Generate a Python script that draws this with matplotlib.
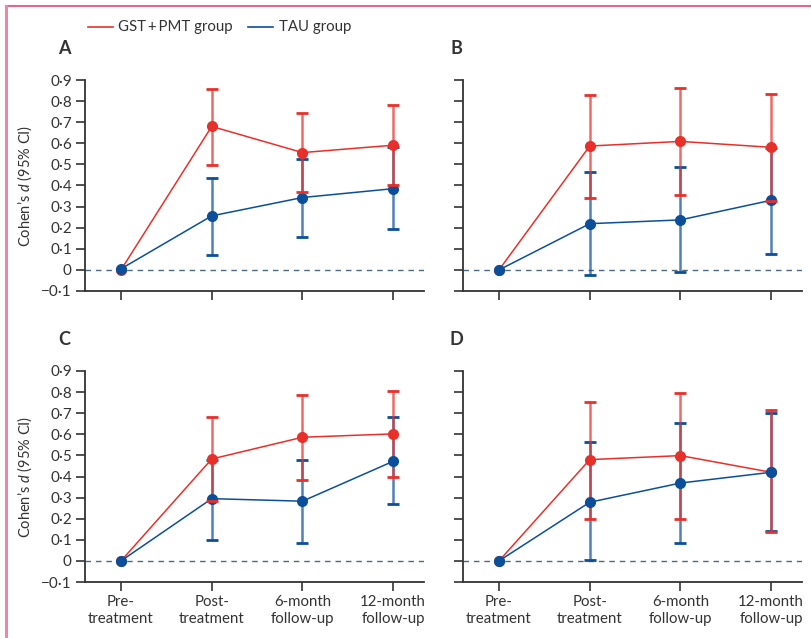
import matplotlib
matplotlib.use("Agg")
import matplotlib.pyplot as plt
from matplotlib.lines import Line2D

plt.rcParams['font.family'] = ['Lato', 'DejaVu Sans']
plt.rcParams['mathtext.fontset'] = 'custom'
plt.rcParams['mathtext.it'] = 'Lato:italic'
plt.rcParams['mathtext.rm'] = 'Lato'

# ---- data ----
timepoints = ["Pre-\ntreatment", "Post-\ntreatment", "6-month\nfollow-up", "12-month\nfollow-up"]
panels = ["A", "B", "C", "D"]

gst_A = [0.0, 0.68, 0.556, 0.591]
gst_A_lo = [0.0, 0.497, 0.369, 0.403]
gst_A_hi = [0.0, 0.857, 0.744, 0.782]
tau_A = [0.005, 0.256, 0.343, 0.385]
tau_A_lo = [0.005, 0.071, 0.156, 0.194]
tau_A_hi = [0.005, 0.434, 0.527, 0.584]

gst_B = [0.0, 0.587, 0.609, 0.581]
gst_B_lo = [0.0, 0.343, 0.357, 0.325]
gst_B_hi = [0.0, 0.829, 0.862, 0.834]
tau_B = [0.0, 0.219, 0.237, 0.330]
tau_B_lo = [0.0, -0.022, -0.009, 0.076]
tau_B_hi = [0.0, 0.464, 0.489, 0.580]

gst_C = [0.0, 0.483, 0.586, 0.602]
gst_C_lo = [0.0, 0.283, 0.382, 0.398]
gst_C_hi = [0.0, 0.681, 0.785, 0.805]
tau_C = [0.0, 0.295, 0.283, 0.472]
tau_C_lo = [0.0, 0.099, 0.085, 0.270]
tau_C_hi = [0.0, 0.480, 0.477, 0.681]

gst_D = [0.0, 0.480, 0.499, 0.420]
gst_D_lo = [0.0, 0.197, 0.197, 0.137]
gst_D_hi = [0.0, 0.753, 0.794, 0.715]
tau_D = [0.0, 0.278, 0.369, 0.420]
tau_D_lo = [0.0, 0.005, 0.085, 0.140]
tau_D_hi = [0.0, 0.562, 0.654, 0.700]

yticks = [-0.1, 0.0, 0.1, 0.2, 0.3, 0.4, 0.5, 0.6, 0.7, 0.8, 0.9]
ytick_labels = ["\u22120\u00b71", "0", "0\u00b71", "0\u00b72", "0\u00b73", "0\u00b74", "0\u00b75",
                "0\u00b76", "0\u00b77", "0\u00b78", "0\u00b79"]

series = {
    "A": (gst_A, gst_A_lo, gst_A_hi, tau_A, tau_A_lo, tau_A_hi),
    "B": (gst_B, gst_B_lo, gst_B_hi, tau_B, tau_B_lo, tau_B_hi),
    "C": (gst_C, gst_C_lo, gst_C_hi, tau_C, tau_C_lo, tau_C_hi),
    "D": (gst_D, gst_D_lo, gst_D_hi, tau_D, tau_D_lo, tau_D_hi),
}

RED = "#e8302b"
BLUE = "#0b4f9a"
TXT = "#333333"

W, H = 811, 638
fig = plt.figure(figsize=(W / 100, H / 100), dpi=100)

ax_w = 339 / W
ax_h = 211 / H
positions = {
    "A": (85 / W, (H - 291) / H),
    "B": (463 / W, (H - 291) / H),
    "C": (85 / W, (H - 582) / H),
    "D": (463 / W, (H - 582) / H),
}

x = list(range(len(timepoints)))


def draw_errors(ax, vals, lo, hi, color, z, capz):
    idx = [i for i in x if i > 0]
    yerr = [[vals[i] - lo[i] for i in idx], [hi[i] - vals[i] for i in idx]]
    eb = ax.errorbar([x[i] for i in idx], [vals[i] for i in idx], yerr=yerr,
                     fmt='none', ecolor=color, elinewidth=1.8, capsize=4, capthick=2.0, zorder=z)
    for bc in eb[2]:
        bc.set_alpha(0.72)
    for cl in eb[1]:
        cl.set_zorder(capz)


def draw_line(ax, vals, color, z):
    ax.plot(x, vals, color=color, lw=1.1, marker='o', ms=7, zorder=z)


for p in panels:
    left, bottom = positions[p]
    ax = fig.add_axes([left, bottom, ax_w, ax_h])
    g, gl, gh, t, tl, th = series[p]
    draw_errors(ax, t, tl, th, BLUE, 2, 2.5)
    draw_errors(ax, g, gl, gh, RED, 3, 7)
    draw_line(ax, g, RED, 4)
    draw_line(ax, t, BLUE, 5)
    ax.axhline(0, color="#4d6a80", lw=1.0, ls=(0, (4, 3.5)), zorder=1)
    ax.set_xlim(-0.397, 3.34)
    ax.set_ylim(-0.1, 0.9)
    ax.spines['top'].set_visible(False)
    ax.spines['right'].set_visible(False)
    for s in ('left', 'bottom'):
        ax.spines[s].set_color(TXT)
        ax.spines[s].set_linewidth(1.3)
    ax.set_yticks(yticks)
    ax.set_xticks(x)
    ax.tick_params(axis='both', length=6.5, width=1.2, color=TXT, labelcolor=TXT,
                   labelsize=11, pad=3)
    if p in ("A", "C"):
        ax.set_yticklabels(ytick_labels)
        ax.set_ylabel("Cohen\u2019s $d$ (95% CI)", fontsize=10.5, color=TXT, labelpad=5)
    else:
        ax.set_yticklabels([])
    if p in ("C", "D"):
        ax.set_xticklabels(timepoints, linespacing=1.3, fontsize=10.8)
    else:
        ax.set_xticklabels([])
    ax.text(-0.06 if p in ("A", "C") else -0.02, 1.11, p, transform=ax.transAxes,
            fontsize=13, fontweight='bold', color=TXT, ha='center', va='bottom')

# legend
ly = 1 - 27 / H
fig.add_artist(Line2D([88 / W, 113 / W], [ly, ly], color=RED, lw=1.2))
fig.text(118 / W, ly, "GST\u2009+\u2009PMT group", fontsize=10.8, color=TXT, va='center')
fig.add_artist(Line2D([248 / W, 273 / W], [ly, ly], color=BLUE, lw=1.2))
fig.text(279 / W, ly, "TAU group", fontsize=10.8, color=TXT, va='center')

# border
bx, by = 6 / W, 1 - 6 / H
fig.add_artist(Line2D([bx, 1.0], [by, by], color="#dc6a8c", lw=1.5))
fig.add_artist(Line2D([bx, bx], [0.0, by], color="#e48aa6", lw=2.2))

fig.savefig("out.png", dpi=100)
